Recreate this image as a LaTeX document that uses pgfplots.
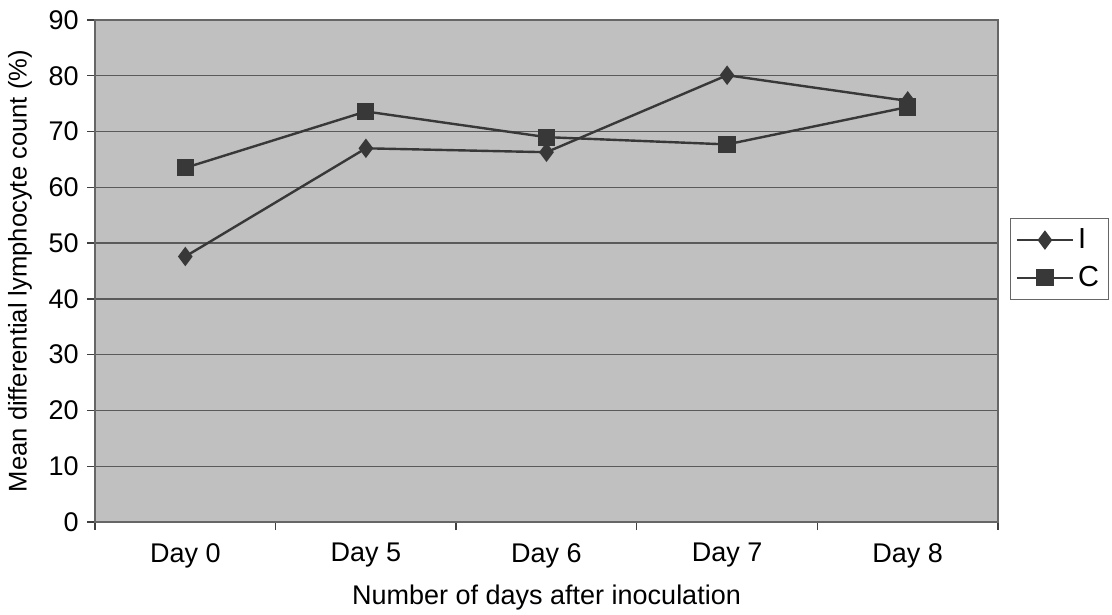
\documentclass[border=0pt]{standalone}
\usepackage{fontspec}
\setmainfont{Liberation Sans}
\usepackage{pgfplots}
\pgfplotsset{compat=1.18}
\definecolor{plotbg}{HTML}{C0C0C0}
\definecolor{gridc}{HTML}{5A5A5A}
\definecolor{serc}{HTML}{383838}
\begin{document}
\fontsize{12bp}{14bp}\selectfont
\begin{tikzpicture}
\path[use as bounding box] (-47.5bp,-46.5bp) rectangle (508.5bp,261bp);
\begin{axis}[
  at={(0,0)}, anchor=south west, scale only axis,
  width=451.5bp, height=251bp,
  xmin=-0.5, xmax=4.5, ymin=0, ymax=90,
  xtick={-0.5,0.5,...,4.5}, xticklabels={},
  extra x ticks={0,1,2,3,4},
  extra x tick labels={Day 0,Day 5,Day 6,Day 7,Day 8},
  extra x tick style={grid=none, major tick length=0pt,
    xticklabel style={yshift=-6.5bp}},
  ytick={0,10,...,90},
  ymajorgrids, major grid style={gridc, line width=0.7bp},
  tick pos=left, tick align=outside, major tick length=4bp,
  tick style={black!75, line width=0.7bp},
  axis line style={black!60, line width=0.7bp},
  axis background/.style={fill=plotbg},
  /pgf/number format/assume math mode=true,
  ticklabel style={font=\fontsize{13.5bp}{16bp}\selectfont},
  xlabel={Number of days after inoculation},
  ylabel={Mean differential lymphocyte count (\%)},
  every axis x label/.style={at={(axis description cs:0.5,-0.151)}, anchor=center,
    font=\fontsize{13.5bp}{16bp}\selectfont},
  every axis y label/.style={at={(axis description cs:-0.083,0.5)}, anchor=center,
    rotate=90, font=\fontsize{12.8bp}{15bp}\selectfont},
  legend style={at={(axis description cs:1.068,0.524)}, anchor=center,
    draw=black!60, fill=white, font=\fontsize{14.5bp}{17bp}\selectfont,
    row sep=3bp, inner xsep=2.5bp, inner ysep=3bp},
  legend cell align=left,
  legend image code/.code={\draw[mark repeat=2,mark phase=2]
    plot coordinates {(0bp,0bp)(14bp,0bp)(28bp,0bp)};},
]
% I group
\addplot[serc, line width=1.2bp, mark=diamond*, mark size=3.9bp,
  mark options={fill=serc, draw=serc}]
  coordinates {(0,47.6) (1,67.0) (2,66.3) (3,80.1) (4,75.5)};
\addlegendentry{I}
% C group
\addplot[serc, line width=1.2bp, mark=square*, mark size=3.7bp,
  mark options={fill=serc, draw=serc}]
  coordinates {(0,63.5) (1,73.6) (2,69.0) (3,67.7) (4,74.4)};
\addlegendentry{C}
\end{axis}
\end{tikzpicture}
\end{document}
